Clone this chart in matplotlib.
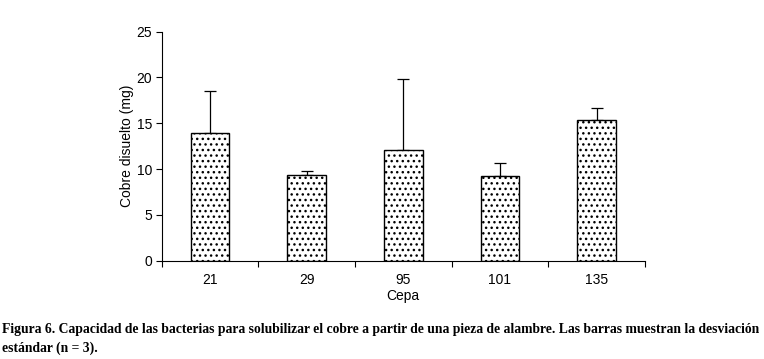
import matplotlib
matplotlib.use("Agg")
import matplotlib.pyplot as plt
import numpy as np

categories = ["21", "29", "95", "101", "135"]
means = [13.9, 9.4, 12.1, 9.2, 15.3]
sds = [4.6, 0.35, 7.7, 1.5, 1.4]
yticks = [0, 5, 10, 15, 20, 25]

plt.rcParams['hatch.linewidth'] = 1.0
fig = plt.figure(figsize=(7.64, 3.59), dpi=100)
ax = fig.add_axes([0.2117, 0.274, 0.6323, 0.638])

x = np.arange(len(categories))
ax.bar(x, means, width=0.40, color="white", edgecolor="black", linewidth=1.0,
       hatch="...", zorder=2)
ax.errorbar(x, means, yerr=[np.zeros(len(sds)), sds], fmt="none", ecolor="black",
            elinewidth=0.9, capsize=4, capthick=0.9, zorder=1)

ax.set_xlim(-0.5, 4.5)
ax.set_ylim(0, 25)
ax.set_yticks(yticks)
ax.set_xticks(x)
ax.set_xticklabels(categories)
ax.set_xticks(np.arange(-0.5, 5.0, 1.0), minor=True)
ax.tick_params(axis="x", which="major", length=0, pad=9)
ax.tick_params(axis="x", which="minor", length=4, width=0.8, direction="out")
ax.tick_params(axis="y", length=4, width=0.8, direction="out", pad=3)
for lab in ax.get_xticklabels() + ax.get_yticklabels():
    lab.set_fontfamily("Liberation Sans")
    lab.set_fontsize(10)
ax.spines["top"].set_visible(False)
ax.spines["right"].set_visible(False)
ax.spines["left"].set_linewidth(0.8)
ax.spines["bottom"].set_linewidth(0.8)
ax.set_ylabel("Cobre disuelto (mg)", fontfamily="Liberation Sans", fontsize=10, labelpad=2)
ax.set_xlabel("Cepa", fontfamily="Liberation Sans", fontsize=10, labelpad=1)

fig.text(0.002, 1 - 330 / 359,
         "Figura 6. Capacidad de las bacterias para solubilizar el cobre a partir de una pieza de alambre. Las barras muestran la desviación",
         fontfamily="Liberation Serif", fontweight="bold", fontsize=9.8, va="center", ha="left")
fig.text(0.002, 1 - 348 / 359, "estándar (n = 3).",
         fontfamily="Liberation Serif", fontweight="bold", fontsize=9.8, va="center", ha="left")

fig.savefig("out.png", dpi=100)
